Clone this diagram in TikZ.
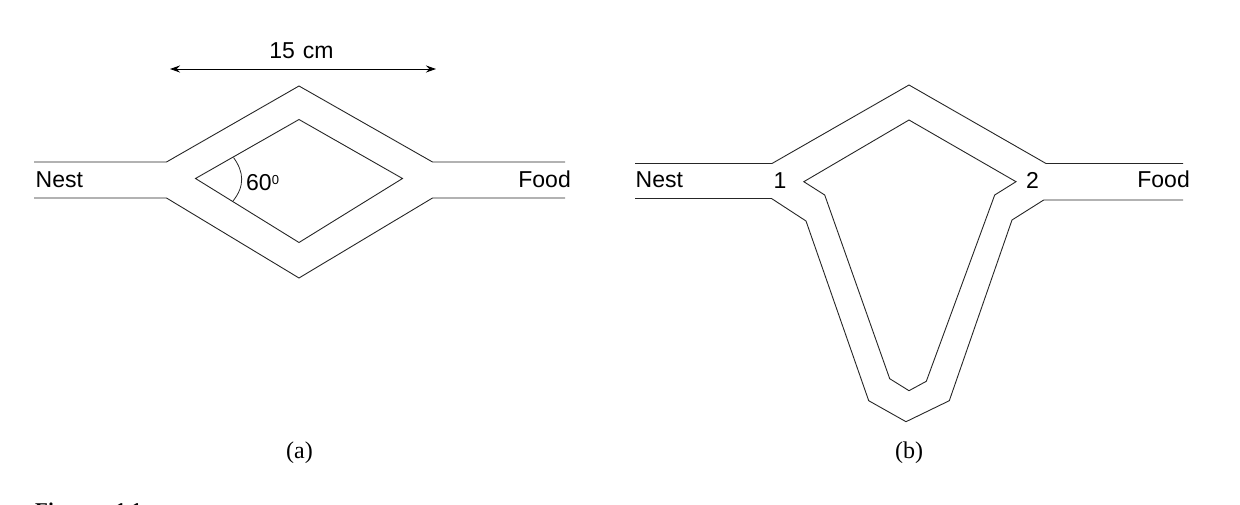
\documentclass[tikz,border=0pt]{standalone}
\usepackage{fontspec}
\setmainfont{Liberation Sans}
\newfontfamily\capfont{Liberation Serif}
\usetikzlibrary{arrows.meta}
\tikzset{
  wall/.style={line width=0.9pt,line join=miter,black!85},
  lab/.style={inner sep=0pt,font=\fontsize{23}{25}\selectfont,text=black},
  caplab/.style={inner sep=0pt,font=\capfont\fontsize{24}{26}\selectfont,text=black},
  dim/.style={line width=0.9pt,{Stealth[length=10pt,width=7pt]}-{Stealth[length=10pt,width=7pt]}}
}
\begin{document}
\begin{tikzpicture}[x=1pt,y=-1pt]
\useasboundingbox (0,0) rectangle (1240,505);
\clip (0,0) rectangle (1240,505);
% panel (a)
\draw[wall] (34,162) -- (166.5,162) -- (299,86) -- (432.5,162) -- (565,162);
\draw[wall] (34,198) -- (166.5,198) -- (299,278) -- (432.5,198) -- (565,198);
\draw[wall] (195.5,178.5) -- (299,119.5) -- (402.5,178.5) -- (299,242.5) -- cycle;
\draw[line width=0.8pt,black!85] (233.5,157.5) .. controls (244,172) and (245,186) .. (233,201);
\coordinate (dl) at (170,69);
\coordinate (dr) at (436,69);
\draw[dim] (dl) -- (dr);
\node[lab,anchor=base] (dimlab) at (301.5,59) {15\hspace{0.35em}cm};
\node[lab,anchor=base west] (nesta) at (35.5,188) {Nest};
\node[lab,anchor=base east] (fooda) at (571,188) {Food};
\node[lab,anchor=base west] (ang) at (246,190.5) {60\raisebox{5.7pt}{\fontsize{13}{13}\selectfont 0}};
\node[caplab,anchor=base] (capa) at (299.5,458) {(a)};
% panel (b)
\draw[wall] (635,163.5) -- (772,163.5) -- (909,85) -- (1046,163.5) -- (1183,163.5);
\draw[wall] (635,198.5) -- (771.5,198.5) -- (806,221) -- (868.7,400.7) -- (906,421.7) -- (949.3,400.7) -- (1012,220) -- (1043.7,200) -- (1183,200);
\draw[wall] (803.8,181.7) -- (909,120) -- (1016,181.7) -- (994.7,195) -- (926.3,381.3) -- (909,390.7) -- (889.7,378.7) -- (824.7,195) -- cycle;
\node[lab,anchor=base] (one) at (780,189) {1};
\node[lab,anchor=base] (two) at (1032.5,189) {2};
\node[lab,anchor=base west] (nestb) at (635.5,188) {Nest};
\node[lab,anchor=base east] (foodb) at (1190,188) {Food};
\node[caplab,anchor=base] (capb) at (909,458) {(b)};
\node[inner sep=0pt,anchor=base west,font=\capfont\bfseries\fontsize{21}{24}\selectfont] (fig) at (35,517) {Figure\hspace{1em}1.1};
\end{tikzpicture}
\end{document}
